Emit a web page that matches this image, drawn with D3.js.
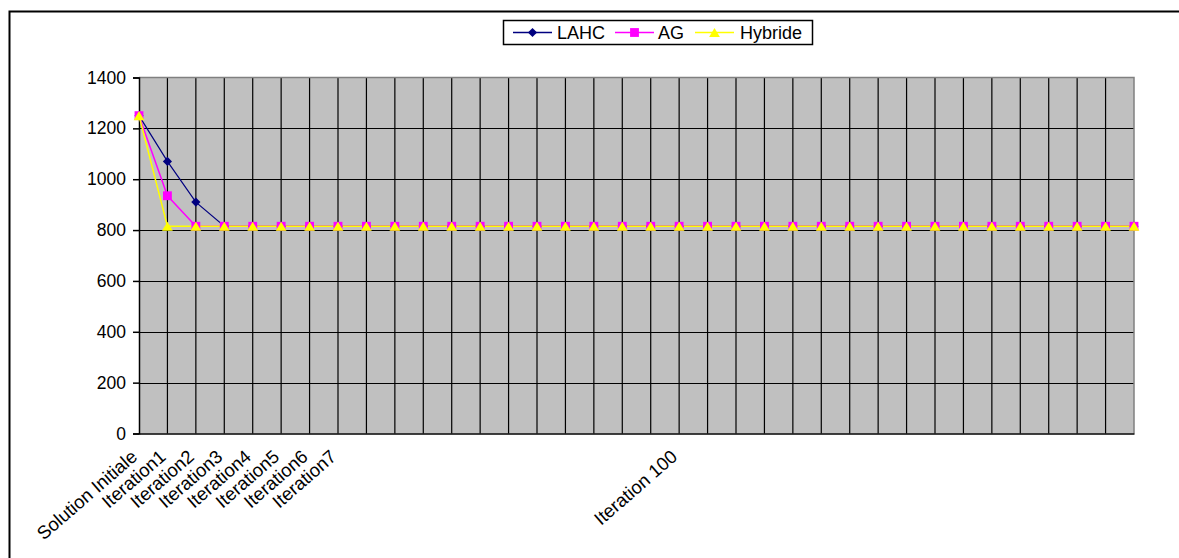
<!DOCTYPE html>
<html><head><meta charset="utf-8">
<script src="https://cdn.jsdelivr.net/npm/d3@7"></script>
<style>body{margin:0;background:#fff}svg{display:block;font-family:Arial,"Liberation Sans",sans-serif}</style>
</head><body>
<svg id="c" width="1179" height="558"></svg>
<script>
const categories = ["Solution Initiale","Iteration1","Iteration2","Iteration3","Iteration4","Iteration5","Iteration6","Iteration7",
  "","","","","","","","","","","",
  "Iteration 100",
  "","","","","","","","","","","","","","","",""];
const lahc = [1250,1070,910,815,815,815,815,815,815,815,815,815,815,815,815,815,815,815,815,815,815,815,815,815,815,815,815,815,815,815,815,815,815,815,815,815];
const ag = [1250,935,815,815,815,815,815,815,815,815,815,815,815,815,815,815,815,815,815,815,815,815,815,815,815,815,815,815,815,815,815,815,815,815,815,815];
const hybride = [1250,815,815,815,815,815,815,815,815,815,815,815,815,815,815,815,815,815,815,815,815,815,815,815,815,815,815,815,815,815,815,815,815,815,815,815];
const yTicks = [0,200,400,600,800,1000,1200,1400];
const seriesNames = ["LAHC","AG","Hybride"];

const FONT = "Arial, 'Liberation Sans', sans-serif";
const svg = d3.select("#c");
const L = 139, R = 1134, T = 77.5, B = 433.5;
const idx = categories.map((d,i)=>i);
const x = d3.scalePoint().domain(idx).range([L,R]);
const y = d3.scaleLinear().domain([0,1400]).range([B,T]);

// outer border
svg.append("rect").attr("x",9.5).attr("y",11.5).attr("width",1200).attr("height",600)
  .attr("fill","none").attr("stroke","#000").attr("stroke-width",2);

// plot area
svg.append("rect").attr("x",L).attr("y",T).attr("width",R-L).attr("height",B-T).attr("fill","#C0C0C0");
svg.append("g").selectAll("line").data(yTicks.filter(d=>d>0 && d<1400)).join("line")
  .attr("x1",L).attr("x2",R).attr("y1",d=>Math.round(y(d))+0.5).attr("y2",d=>Math.round(y(d))+0.5)
  .attr("stroke","#000").attr("stroke-width",1.2);
svg.append("g").selectAll("line").data(idx.slice(1,-1)).join("line")
  .attr("x1",d=>x(d)).attr("x2",d=>x(d)).attr("y1",T).attr("y2",B)
  .attr("stroke","#000").attr("stroke-width",1.2);
svg.append("path").attr("d",`M${L},${T}H${R}V${B}`).attr("fill","none").attr("stroke","#808080").attr("stroke-width",1.5);

// y axis
const yAxis = d3.axisLeft(y).tickValues(yTicks).tickSize(6).tickPadding(7).tickFormat(d3.format("d"));
const gy = svg.append("g").attr("transform",`translate(${L},0)`).call(yAxis);
gy.select(".domain").attr("stroke","#000").attr("stroke-width",1.5);
gy.selectAll(".tick line").attr("stroke","#000").attr("stroke-width",1.5);
gy.selectAll("text").attr("font-size",17.5).attr("fill","#000").attr("font-family",FONT);

// x axis
const xAxis = d3.axisBottom(x).tickSize(0).tickFormat(i=>categories[i]);
const gx = svg.append("g").attr("transform",`translate(0,${B})`).call(xAxis);
gx.select(".domain").attr("stroke","#000").attr("stroke-width",1.5);
gx.selectAll("text").attr("font-size",18.5).attr("fill","#000")
  .attr("font-family",FONT)
  .attr("text-anchor","end").attr("dy",0).attr("y",0)
  .attr("transform","translate(-1,25) rotate(-41)");

// markers: centred on bounding box like the original
const markerPath = {
  diamond: d3.symbol(d3.symbolSquare,42)(),
  square: d3.symbol(d3.symbolSquare,78)(),
  triangle: "M0,-4.6L5.4,4.6L-5.4,4.6Z"
};
const series = [
  {name:seriesNames[0], values:lahc, color:"#000080", m:"diamond", rot:45, w:1.2},
  {name:seriesNames[1], values:ag, color:"#FF00FF", m:"square", rot:0, w:1.5},
  {name:seriesNames[2], values:hybride, color:"#FFFF00", m:"triangle", rot:0, w:1.5}
];
const line = d3.line().x((d,i)=>x(i)).y(d=>y(d));
series.forEach(s=>{
  svg.append("path").attr("d",line(s.values)).attr("fill","none").attr("stroke",s.color).attr("stroke-width",s.w);
});
series.forEach(s=>{
  svg.append("g").selectAll("path").data(s.values).join("path")
    .attr("d",markerPath[s.m])
    .attr("transform",(d,i)=>`translate(${x(i)},${y(d)}) rotate(${s.rot})`)
    .attr("fill",s.color);
});

// legend
const lg = svg.append("g");
lg.append("rect").attr("x",503.5).attr("y",20.5).attr("width",309).attr("height",24)
  .attr("fill","#fff").attr("stroke","#000").attr("stroke-width",1.5);
const items = [{x0:513,tx:557},{x0:615,tx:658},{x0:695,tx:740}];
series.forEach((s,k)=>{
  const it = items[k];
  lg.append("line").attr("x1",it.x0).attr("x2",it.x0+39).attr("y1",32.5).attr("y2",32.5).attr("stroke",s.color).attr("stroke-width",1.5);
  lg.append("path").attr("d",markerPath[s.m]).attr("transform",`translate(${it.x0+19.5},32.5) rotate(${s.rot})`).attr("fill",s.color);
  lg.append("text").attr("x",it.tx).attr("y",39).attr("font-size",18).attr("font-family",FONT).attr("fill","#000").text(s.name);
});
</script>
</body></html>
